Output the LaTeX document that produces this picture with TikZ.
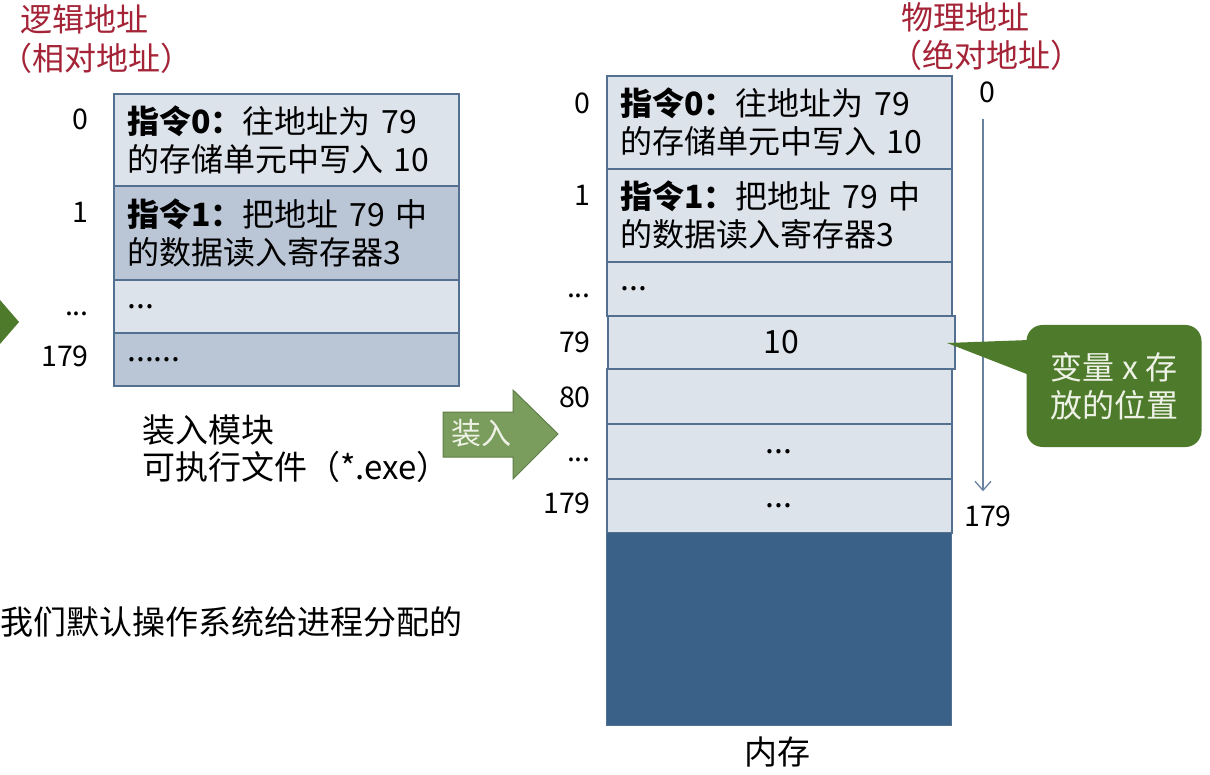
\documentclass[tikz,border=0pt]{standalone}
\usepackage{fontspec}
\setmainfont{Noto Sans CJK SC}
\usetikzlibrary{arrows.meta}
\definecolor{cellborder}{RGB}{84,112,145}
\definecolor{celllight}{RGB}{221,227,235}
\definecolor{celldark}{RGB}{186,197,213}
\definecolor{memdark}{RGB}{58,97,135}
\definecolor{titlered}{RGB}{165,35,55}
\definecolor{greenbox}{RGB}{78,122,43}
\definecolor{greenarrow}{RGB}{122,156,92}
\definecolor{greenedge}{RGB}{95,125,70}
\definecolor{axisblue}{RGB}{105,130,160}
\definecolor{lighttext}{RGB}{238,242,230}
\newcommand{\cellfont}{\fontsize{32}{38}\selectfont}
\newcommand{\labfont}{\fontsize{28.5}{34}\selectfont}
\newcommand{\redfont}{\fontsize{32}{40}\selectfont}
\newcommand{\plainfont}{\fontsize{33}{37}\selectfont}
\begin{document}
\begin{tikzpicture}[x=1pt,y=-1pt,
  cell/.style={draw=cellborder, line width=1.6pt, inner sep=0pt, minimum width=345,
    text width=318, align=left, anchor=north west, font=\cellfont},
  ccell/.style={cell, align=center},
  addr/.style={anchor=base east, font=\labfont, inner sep=0pt},
  redlab/.style={text=titlered, font=\redfont, inner sep=0pt},
  plain/.style={font=\plainfont, inner sep=0pt},
  axisline/.style={draw=axisblue, line width=1.3pt, -{Straight Barb[length=9pt,width=16pt]}},
  loadarrow/.style={fill=greenarrow, draw=greenedge, line width=1pt},
  note/.style={fill=greenbox, rounded corners=16pt, minimum width=175, minimum height=122,
    align=center, text=lighttext, font=\cellfont, inner sep=0pt}]
\useasboundingbox (0,0) rectangle (1210,775);
\fill[white] (0,0) rectangle (1210,775);

% red headings
\node[redlab] (logic1) at (84,19) {逻辑地址};
\node[redlab, anchor=west] (logic2) at (0,58) {（相对地址）};
\node[redlab] (phys1) at (965,17) {物理地址};
\node[redlab] (phys2) at (986,55) {（绝对地址）};

% partial arrow at left edge
\fill[greenbox] (0,300) -- (19,322) -- (0,344) -- cycle;

% left table (load module)
\node[cell, fill=celllight, minimum height=92] (L0) at (113,93) {\textbf{指令0：}往地址为 79\\的存储单元中写入 10};
\node[cell, fill=celldark, minimum height=94] (L1) at (113,185) {\textbf{指令1：}把地址 79 中\\的数据读入寄存器3};
\node[cell, fill=celllight, minimum height=53] (L2) at (113,279) {...};
\node[cell, fill=celldark, minimum height=53] (L3) at (113,332) {......};

\node[addr] (la0) at (89,130) {0};
\node[addr] (la1) at (89,223) {1};
\node[addr] (la2) at (89,316) {...};
\node[addr] (la3) at (89,367) {179};

\node[plain, anchor=west, align=left, text width=330] (modlbl) at (142,449) {装入模块\\可执行文件（*.exe）};

% load arrow
\draw[loadarrow] (443,412) -- (513,412) -- (513,390) -- (558,434) -- (513,479) -- (513,457) -- (443,457) -- cycle;
\node[font=\fontsize{30}{34}\selectfont, text=lighttext, inner sep=0pt] (loadtxt) at (481,433) {装入};

% right table (memory)
\node[cell, fill=celllight, minimum height=93] (R0) at (606,75) {\textbf{指令0：}往地址为 79\\的存储单元中写入 10};
\node[cell, fill=celllight, minimum height=93] (R1) at (606,168) {\textbf{指令1：}把地址 79 中\\的数据读入寄存器3};
\node[cell, fill=celllight, minimum height=54] (R2) at (606,261) {...};
\node[ccell, fill=celllight, minimum height=53, minimum width=347] (R3) at (607,315) {10};
\node[ccell, fill=celllight, minimum height=55] (R4) at (606,368) {};
\node[ccell, fill=celllight, minimum height=55] (R5) at (606,423) {...};
\node[ccell, fill=celllight, minimum height=54] (R6) at (606,478) {...};
\node[draw=cellborder, fill=memdark, line width=1pt, inner sep=0pt, minimum width=345,
  minimum height=193, anchor=north west] (Rfree) at (606,532) {};

\node[addr] (ra0) at (591,114) {0};
\node[addr] (ra1) at (591,206) {1};
\node[addr] (ra2) at (591,298) {...};
\node[addr] (ra3) at (591,353) {79};
\node[addr] (ra4) at (591,407) {80};
\node[addr] (ra5) at (591,461) {...};
\node[addr] (ra6) at (591,513) {179};

\node[plain] (memlbl) at (777,752) {内存};

% physical address axis
\node[font=\labfont, inner sep=0pt] (ax0) at (987,92) {0};
\node[font=\labfont, inner sep=0pt] (ax1) at (988,516) {179};
\draw[axisline, shorten <=16pt, shorten >=14pt] (ax0.south -| 983,0) -- (ax1.north -| 983,0);

% callout
\coordinate (ptr) at (947,343);
\node[note] (note) at (1114,386) {变量 x 存\\放的位置};
\fill[greenbox] ([xshift=3pt,yshift=46pt]note.west) -- (ptr) -- ([xshift=3pt,yshift=11pt]note.west) -- cycle;

% bottom sentence
\node[plain, anchor=west] (bottom) at (0,622) {我们默认操作系统给进程分配的};
\end{tikzpicture}
\end{document}
